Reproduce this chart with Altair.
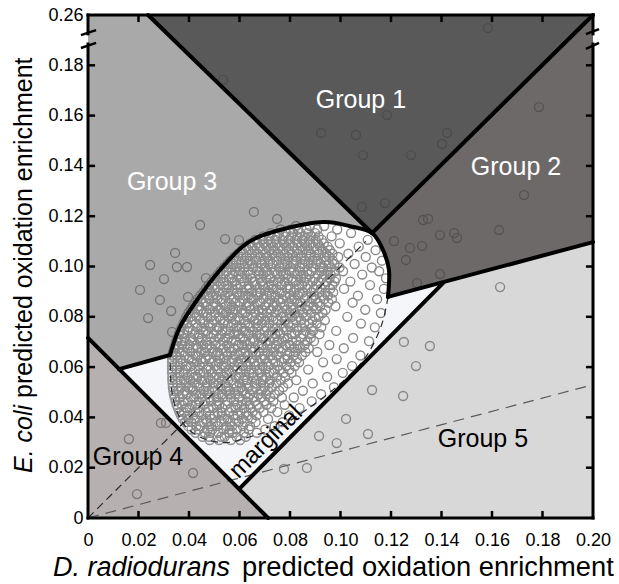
import altair as alt
import pandas as pd

FONT = "Liberation Sans"

# ---------------- axes ----------------
AXIS_VALUES = [0, 0.02, 0.04, 0.06, 0.08, 0.10, 0.12, 0.14, 0.16, 0.18, 0.20]
INNER_TICKS = [0.02, 0.04, 0.06, 0.08, 0.10, 0.12, 0.14, 0.16, 0.18]

# ---------------- scatter points (thousandths of enrichment) ----------------
OUT_X = [53.5, 92.3, 106.1, 108.9, 118.4, 127.9, 140.2, 142.2, 158.4, 108.5, 117.6,
         178.6, 172.7, 132.7, 134.7, 139.4, 145.0, 146.1, 121.2, 127.5, 132.3, 125.9, 139.4, 130.3, 162.8,
         163.2, 102.2, 91.5, 98.5, 110.9, 77.6, 86.7, 125.1, 135.4, 129.9, 124.8, 112.5,
         16.2, 41.6, 19.4, 28.9, 30.9,
         65.7, 74.9, 54.3, 59.8, 66.1, 34.5, 35.2, 39.2, 30.1, 46.7, 39.6, 32.9, 23.8, 33.3,
         24.6, 20.6, 44.4, 28.5]
OUT_Y = [174.2, 153.1, 152.3, 144.3, 160.2, 144.3, 148.7, 153.1, 194.8, 123.7, 125.2,
         163.4, 128.4, 118.5, 118.9, 112.5, 113.3, 111.3, 110.1, 107.4, 108.2, 102.6, 97.0, 93.4, 114.5,
         91.8, 39.4, 32.6, 29.8, 33.4, 19.5, 19.9, 70.0, 68.4, 60.4, 48.5, 50.9,
         31.4, 17.9, 9.5, 37.8, 37.8,
         121.7, 118.9, 110.9, 110.5, 110.5, 105.4, 99.8, 99.8, 95.0, 95.4, 87.9, 82.3, 79.5, 74.0,
         100.6, 90.7, 116.5, 86.7]

CLUSTER_ROWS = [
    (31.0, [48.2, 51.9, 56.6, 60.3]),
    (32.3, [45.4, 47.9, 52.7, 54.1, 58.8, 62.5]),
    (33.9, [42.6, 46.3, 48.4, 51.7, 55.9, 57.3, 61.8, 66.9]),
    (35.2, [41.0, 43.8, 47.5, 49.2, 53.6, 56.1, 59.0, 63.7, 70.2]),
    (36.5, [39.7, 42.9, 44.6, 48.8, 51.3, 54.9, 57.0, 61.4, 64.2, 73.9]),
    (38.1, [38.4, 40.9, 45.2, 47.1, 50.6, 52.8, 56.3, 59.7, 62.1, 66.4, 77.1]),
    (39.4, [37.5, 39.8, 42.4, 46.7, 49.0, 53.9, 55.4, 58.2, 61.0, 64.9, 71.3]),
    (40.8, [36.8, 39.3, 41.7, 44.9, 48.3, 50.2, 53.0, 57.6, 59.3, 63.1, 66.8, 79.6]),
    (42.1, [36.2, 38.0, 42.6, 44.1, 46.8, 51.4, 52.9, 55.8, 60.4, 62.7, 65.2, 69.5, 75.0]),
    (43.7, [35.6, 38.9, 40.3, 43.5, 47.7, 49.6, 53.1, 56.7, 58.4, 61.9, 64.3, 68.0, 72.6, 83.8]),
    (45.0, [35.1, 37.2, 41.1, 42.8, 45.9, 50.8, 52.0, 54.6, 59.1, 60.8, 64.0, 66.9, 70.7, 77.9]),
    (46.4, [34.7, 37.9, 39.6, 43.9, 46.4, 48.7, 51.5, 55.3, 57.8, 61.2, 62.9, 66.1, 69.8, 73.4, 88.6]),
    (47.9, [34.3, 36.4, 40.7, 42.0, 45.1, 48.0, 50.9, 53.4, 56.5, 59.9, 63.5, 65.7, 68.4, 72.2, 76.8, 81.5]),
    (49.2, [34.0, 37.6, 39.2, 42.9, 44.4, 47.3, 51.8, 53.1, 55.9, 58.3, 62.4, 64.1, 67.6, 70.5, 74.0, 92.3]),
    (50.6, [33.8, 35.9, 38.5, 41.6, 45.8, 47.9, 50.3, 54.7, 56.2, 59.6, 61.3, 65.0, 68.8, 71.3, 75.7, 85.1]),
    (52.0, [33.6, 36.9, 39.7, 41.2, 44.0, 46.8, 49.5, 52.4, 55.0, 58.9, 60.7, 63.6, 66.3, 70.0, 72.8, 77.3, 97.4]),
    (53.5, [33.5, 35.4, 38.8, 42.3, 43.7, 47.2, 49.9, 51.6, 54.4, 57.7, 60.0, 62.8, 65.9, 68.3, 71.8, 74.6, 79.2, 89.0]),
    (54.8, [33.4, 36.7, 38.1, 40.6, 44.8, 46.1, 48.6, 52.9, 55.5, 57.1, 61.6, 63.0, 66.8, 69.4, 72.1, 76.3, 82.5]),
    (56.1, [33.4, 35.6, 39.4, 41.9, 43.3, 47.6, 50.1, 51.9, 54.0, 58.5, 59.8, 62.2, 65.4, 68.9, 70.6, 74.7, 78.1, 94.7]),
    (57.7, [33.3, 36.2, 37.9, 40.9, 44.5, 45.8, 49.2, 52.6, 54.9, 56.7, 60.3, 63.9, 65.6, 68.1, 71.9, 73.5, 77.4, 80.6, 100.9]),
    (59.0, [33.3, 35.1, 38.6, 42.4, 43.9, 46.9, 48.5, 51.2, 55.6, 57.4, 59.2, 62.5, 64.7, 67.9, 70.3, 73.9, 76.0, 79.8, 87.2]),
    (60.4, [33.3, 36.5, 39.1, 40.7, 44.2, 47.7, 50.5, 53.0, 54.3, 58.0, 61.1, 63.4, 66.2, 69.1, 71.5, 75.3, 78.5, 81.9, 104.6]),
    (61.9, [33.3, 35.5, 37.6, 41.8, 43.1, 45.5, 49.0, 51.7, 54.6, 56.9, 59.5, 62.7, 65.8, 67.4, 70.9, 74.2, 76.7, 80.3, 83.6, 93.1]),
    (63.2, [33.3, 36.8, 39.9, 41.3, 44.8, 46.6, 48.1, 52.3, 53.8, 57.5, 60.6, 61.9, 64.9, 68.5, 70.1, 73.0, 77.8, 79.1, 82.8, 98.5]),
    (64.6, [33.3, 35.2, 38.3, 42.5, 43.6, 47.4, 50.7, 52.0, 55.2, 58.2, 59.9, 63.3, 66.6, 69.7, 72.4, 74.8, 78.9, 81.4, 84.7, 107.9]),
    (66.0, [33.7, 36.3, 37.8, 40.4, 44.7, 46.3, 49.4, 51.3, 54.8, 56.6, 60.5, 62.4, 65.2, 67.7, 71.2, 73.6, 76.4, 80.0, 82.2, 86.1, 90.8]),
    (67.5, [34.1, 35.9, 39.5, 41.6, 43.4, 47.0, 48.9, 53.5, 55.9, 57.8, 61.7, 64.6, 66.1, 69.3, 72.9, 75.6, 77.2, 81.7, 84.0, 87.4, 101.3]),
    (68.8, [34.6, 37.3, 40.2, 42.9, 45.6, 48.2, 50.6, 52.4, 55.1, 59.4, 60.9, 63.1, 67.3, 68.7, 71.0, 74.5, 78.3, 79.9, 83.1, 85.8, 95.6]),
    (70.3, [35.0, 36.9, 38.7, 41.2, 44.3, 46.9, 50.0, 53.7, 56.8, 58.6, 62.0, 64.3, 66.0, 70.4, 72.2, 75.0, 76.9, 80.8, 82.5, 86.9, 89.5, 111.3]),
    (71.6, [35.5, 38.2, 40.8, 43.7, 45.1, 48.8, 51.6, 54.3, 55.6, 60.2, 61.5, 65.5, 68.4, 69.6, 73.8, 77.7, 79.0, 84.3, 88.2, 105.0]),
    (73.1, [36.0, 37.7, 42.1, 44.0, 47.5, 49.7, 52.8, 56.0, 57.9, 59.7, 63.7, 66.9, 68.0, 71.6, 74.1, 76.2, 80.5, 81.9, 85.3, 87.9, 91.7]),
    (74.4, [36.5, 39.4, 41.5, 45.7, 46.8, 50.9, 53.2, 54.8, 58.8, 61.4, 62.6, 65.4, 69.9, 72.6, 75.4, 78.6, 83.0, 86.2, 89.1, 98.3]),
    (75.8, [37.1, 40.1, 43.2, 44.9, 48.4, 51.1, 52.0, 56.5, 59.0, 60.8, 64.1, 67.0, 70.7, 73.1, 74.9, 77.5, 80.1, 82.7, 84.8, 88.6, 92.4, 113.6]),
    (77.3, [37.8, 39.2, 42.7, 46.1, 47.8, 49.3, 53.6, 55.4, 57.6, 62.2, 63.8, 66.5, 68.8, 71.8, 76.5, 79.3, 81.3, 85.7, 87.6, 90.6, 108.1]),
    (78.6, [38.4, 41.3, 44.4, 45.6, 49.9, 52.5, 54.1, 58.3, 60.0, 61.8, 65.9, 67.4, 70.2, 73.4, 75.1, 77.9, 82.4, 84.4, 88.9, 93.8]),
    (80.0, [39.0, 40.6, 43.0, 47.3, 48.6, 51.9, 55.7, 56.9, 59.5, 63.2, 65.0, 68.6, 71.1, 72.9, 76.7, 78.4, 80.8, 83.5, 86.3, 89.9, 91.4, 102.7]),
    (81.5, [39.8, 42.2, 45.8, 46.9, 50.4, 53.3, 54.6, 57.3, 61.1, 62.4, 66.3, 69.1, 70.9, 74.4, 77.0, 79.7, 82.0, 85.1, 88.4, 92.9, 116.0]),
    (82.8, [40.7, 43.6, 44.7, 48.2, 51.7, 52.6, 56.2, 58.5, 60.9, 64.4, 67.6, 68.9, 72.5, 75.2, 78.8, 81.2, 83.9, 86.8, 90.4, 94.1, 109.8]),
    (84.2, [41.5, 44.1, 47.0, 49.5, 50.8, 54.5, 57.0, 59.8, 62.7, 63.9, 66.0, 70.1, 73.3, 74.7, 77.8, 80.4, 84.6, 87.1, 89.3, 92.0, 98.0]),
    (85.6, [42.4, 45.5, 46.6, 50.3, 53.0, 55.8, 58.4, 60.1, 63.4, 67.2, 68.2, 71.4, 73.9, 76.3, 79.5, 82.9, 84.1, 87.9, 91.0, 95.2, 104.8]),
    (87.0, [43.4, 44.9, 48.0, 51.2, 52.9, 56.8, 57.7, 61.6, 64.5, 65.6, 69.5, 72.0, 75.5, 77.1, 80.7, 81.8, 85.9, 88.6, 90.1, 93.5, 96.6, 114.5]),
    (88.4, [44.4, 47.2, 49.4, 50.9, 54.2, 56.0, 59.9, 62.3, 63.5, 67.0, 70.8, 72.7, 74.3, 78.1, 79.9, 83.3, 86.5, 89.7, 92.6, 95.0, 106.9]),
    (89.7, [45.6, 48.5, 51.8, 53.3, 55.5, 58.9, 61.0, 64.8, 66.7, 68.3, 71.9, 75.9, 76.8, 81.5, 83.9, 85.2, 88.3, 91.6, 94.0, 97.1]),
    (91.1, [46.7, 48.1, 50.6, 54.7, 57.1, 59.3, 62.9, 64.0, 67.9, 70.3, 73.1, 74.6, 78.7, 80.2, 82.6, 86.8, 89.4, 92.2, 95.9, 101.4, 117.2]),
    (92.6, [47.8, 50.0, 52.6, 55.4, 58.6, 60.5, 63.6, 66.4, 69.2, 71.7, 72.8, 76.6, 79.4, 83.5, 84.8, 87.0, 90.6, 93.9, 96.8, 111.7]),
    (94.0, [49.0, 51.5, 54.0, 57.0, 58.0, 61.9, 65.1, 66.0, 68.8, 73.5, 75.2, 77.9, 81.1, 82.3, 85.7, 88.9, 91.3, 94.6, 97.7, 103.9]),
    (95.3, [50.1, 52.8, 55.8, 56.9, 60.7, 63.0, 64.6, 68.1, 70.6, 72.3, 76.0, 79.2, 80.6, 84.4, 86.4, 89.9, 92.8, 95.7, 98.2, 118.0]),
    (96.8, [51.4, 53.7, 57.4, 59.6, 62.1, 64.3, 67.6, 69.4, 71.9, 74.9, 77.4, 78.5, 82.8, 85.3, 87.7, 91.0, 93.5, 96.1, 108.6]),
    (98.1, [52.5, 55.0, 58.1, 60.2, 63.5, 66.8, 68.0, 70.9, 73.8, 76.3, 79.9, 81.6, 84.0, 86.9, 88.5, 92.4, 94.9, 97.9, 101.0, 115.3]),
    (99.6, [53.9, 56.6, 59.0, 61.8, 65.4, 67.2, 70.0, 72.5, 75.7, 77.7, 80.3, 83.8, 85.6, 89.2, 91.9, 93.2, 96.3, 99.6, 112.4]),
    (101.0, [55.2, 57.7, 60.6, 63.1, 64.9, 68.7, 71.4, 73.1, 76.9, 79.0, 81.4, 84.9, 87.3, 90.4, 92.1, 95.4, 97.6, 105.6]),
    (102.3, [56.4, 58.8, 62.0, 64.4, 66.7, 69.9, 72.2, 74.8, 78.2, 80.9, 82.5, 86.1, 88.9, 91.1, 94.2, 96.9, 116.4]),
    (103.8, [57.9, 60.7, 62.9, 66.1, 68.4, 71.0, 74.0, 76.4, 79.3, 82.2, 84.6, 87.6, 89.8, 93.7, 95.5, 99.1, 110.0]),
    (105.1, [59.3, 61.5, 64.9, 67.3, 70.2, 72.9, 75.3, 77.9, 80.8, 83.3, 86.5, 88.2, 91.5, 94.4, 96.8, 103.1]),
    (106.5, [60.9, 63.6, 66.0, 69.2, 71.7, 73.8, 77.2, 79.6, 82.7, 85.0, 87.3, 90.7, 92.9, 95.8, 113.9]),
    (107.9, [62.6, 65.1, 67.9, 70.6, 73.3, 75.9, 78.6, 81.2, 84.3, 86.8, 89.3, 91.9, 94.9, 107.2]),
    (109.2, [64.3, 67.0, 69.6, 72.4, 74.7, 77.6, 80.1, 82.9, 85.8, 88.1, 91.0, 93.4, 99.7]),
    (110.6, [66.5, 69.1, 71.5, 74.3, 77.0, 79.4, 82.0, 84.8, 87.5, 90.2, 92.6, 110.8]),
    (112.0, [69.4, 72.0, 74.9, 77.5, 80.5, 83.0, 85.9, 88.4, 91.3, 96.5]),
    (113.3, [72.4, 75.6, 78.4, 81.3, 84.2, 87.1, 90.0, 104.2]),
    (114.7, [76.3, 80.2, 83.1, 86.6, 90.8, 98.7]),
    (116.1, [82.4, 87.9, 93.5]),
]

# ---------------- region geometry (enrichment units) ----------------
ELLIPSE_TOP = [(0.0325, 0.0648), (0.0364, 0.0759), (0.0432, 0.0867), (0.0523, 0.0986),
               (0.0630, 0.1093), (0.0760, 0.1145), (0.0931, 0.1177), (0.1038, 0.1160),
               (0.1125, 0.1133), (0.1168, 0.1066), (0.1192, 0.0986), (0.1188, 0.0879)]
ELLIPSE_BOTTOM = [(0.1188, 0.0879), (0.1160, 0.0760), (0.1093, 0.0630), (0.0986, 0.0523),
                  (0.0867, 0.0432), (0.0759, 0.0364), (0.0648, 0.0325), (0.0550, 0.0300),
                  (0.0460, 0.0315), (0.0390, 0.0360), (0.0350, 0.0430), (0.0330, 0.0520),
                  (0.0325, 0.0648)]

G1 = [(0.0238, 0.2), (0.2, 0.2), (0.1125, 0.1133)]
G2 = [(0.2, 0.2), (0.1125, 0.1133), (0.1168, 0.1066), (0.1192, 0.0986), (0.1188, 0.0879), (0.2, 0.1097)]
G3 = [(0.0, 0.2), (0.0238, 0.2)] + ELLIPSE_TOP[8::-1] + [(0.0123, 0.0592), (0.0, 0.0716)]
G4 = [(0.0, 0.0), (0.0, 0.0716), (0.0713, 0.0)]
G5 = [(0.0713, 0.0), (0.2, 0.0), (0.2, 0.1097), (0.1406, 0.0934), (0.0602, 0.0119)]
MARG = [(0.0123, 0.0592), (0.0602, 0.0119), (0.1406, 0.0934)] + ELLIPSE_BOTTOM

THICK_SEGMENTS = [
    [(0.0238, 0.2), (0.1125, 0.1133)],
    [(0.1125, 0.1133), (0.2, 0.2)],
    [(0.1188, 0.0879), (0.2, 0.1097)],
    [(0.0602, 0.0119), (0.1406, 0.0934)],
    [(0.0, 0.0716), (0.0713, 0.0)],
    [(0.0123, 0.0592), (0.0325, 0.0648)],
    ELLIPSE_TOP,
]

DIAG_LINE = [(0.0, 0.0), (0.110, 0.110)]
SHALLOW_LINE = [(0.0, 0.0), (0.2, 0.053)]

LABEL_TEXT = ["Group 1", "Group 2", "Group 3", "Group 4", "Group 5"]
LABEL_X = [0.1081, 0.1695, 0.0333, 0.0198, 0.1564]
LABEL_Y = [0.1662, 0.1396, 0.1336, 0.0243, 0.0314]
LABEL_COLOR = ["white", "white", "white", "black", "black"]

# ---------------- encodings ----------------
XS = alt.Scale(domain=[0, 0.2], nice=False, zero=False)
YS = alt.Scale(domain=[0, 0.2], nice=False, zero=False)
X_AXIS = alt.Axis(values=AXIS_VALUES, labelExpr="datum.value == 0 ? '0' : format(datum.value, '.2f')",
                  domain=False, ticks=False, grid=False, title=None, labelFont=FONT, labelFontSize=18,
                  labelColor="black", labelPadding=13, labelFlush=False, labelOverlap=False)
Y_AXIS = alt.Axis(values=AXIS_VALUES,
                  labelExpr="datum.value > 0.199 ? '0.26' : (datum.value == 0 ? '0' : format(datum.value, '.2f'))",
                  domain=False, ticks=False, grid=False, title=None, labelFont=FONT, labelFontSize=18,
                  labelColor="black", labelPadding=5, labelFlush=False, labelOverlap=False)


def X(f="x"):
    return alt.X(f, type="quantitative", scale=XS, axis=X_AXIS)


def Y(f="y"):
    return alt.Y(f, type="quantitative", scale=YS, axis=Y_AXIS)


def polygon(pts, color, opacity):
    df = pd.DataFrame({"x": [p[0] for p in pts], "y": [p[1] for p in pts], "o": list(range(len(pts)))})
    return alt.Chart(df).mark_line(fill=color, fillOpacity=opacity, strokeWidth=0, strokeOpacity=0).encode(
        x=X(), y=Y(), order="o:Q")


def path(segments, **kw):
    rows = []
    for i, seg in enumerate(segments):
        for j, p in enumerate(seg):
            rows.append({"x": p[0], "y": p[1], "s": i, "o": j})
    return alt.Chart(pd.DataFrame(rows)).mark_line(**kw).encode(x=X(), y=Y(), detail="s:N", order="o:Q")


# points
px, py = [], []
for x, y in zip(OUT_X, OUT_Y):
    px.append(x / 1000)
    py.append(y / 1000)
for yv, xs in CLUSTER_ROWS:
    for xv in xs:
        px.append(xv / 1000)
        py.append(yv / 1000)
pts_df = pd.DataFrame({"x": px, "y": py})
points = alt.Chart(pts_df).mark_point(shape="circle", filled=False, size=80, strokeWidth=1.4,
                                      color="#8a8a8a", opacity=1).encode(x=X(), y=Y())

regions = [
    polygon(G3, "#646262", 0.55),
    polygon(G1, "#424242", 0.88),
    polygon(G2, "#484444", 0.80),
    polygon(G4, "#6d6161", 0.50),
    polygon(G5, "#7d7d7d", 0.30),
    polygon(MARG, "#b6c3de", 0.15),
]

dashed_inner = path([DIAG_LINE], color="#2a2a2a", strokeWidth=1.2, strokeDash=[8, 5])
dashed_shallow = path([SHALLOW_LINE], color="#5a5a5a", strokeWidth=1.2, strokeDash=[11, 7])
dashed_ellipse = path([ELLIPSE_BOTTOM], color="#2a2a2a", strokeWidth=1.2, strokeDash=[7, 5],
                      interpolate="cardinal")
thick = path(THICK_SEGMENTS, color="black", strokeWidth=4, interpolate="cardinal", strokeCap="round",
             strokeJoin="round")

# frame
frame_rows = [
    {"x": 0.0, "x2": 0.2, "y": 0.0, "y2": 0.0},
    {"x": 0.0, "x2": 0.2, "y": 0.2, "y2": 0.2},
    {"x": 0.0, "x2": 0.0, "y": 0.0, "y2": 0.1885},
    {"x": 0.0, "x2": 0.0, "y": 0.1925, "y2": 0.2},
    {"x": 0.2, "x2": 0.2, "y": 0.0, "y2": 0.1885},
    {"x": 0.2, "x2": 0.2, "y": 0.1925, "y2": 0.2},
]
frame = alt.Chart(pd.DataFrame(frame_rows)).mark_rule(color="black", strokeWidth=3, strokeCap="square").encode(
    x=X(), x2="x2", y=Y(), y2="y2")

break_rows = [
    {"x": -0.0028, "x2": 0.0032, "y": 0.1920, "y2": 0.1940},
    {"x": -0.0028, "x2": 0.0032, "y": 0.1869, "y2": 0.1889},
    {"x": 0.1972, "x2": 0.2024, "y": 0.1924, "y2": 0.1944},
    {"x": 0.1972, "x2": 0.2024, "y": 0.1865, "y2": 0.1889},
]
breaks = alt.Chart(pd.DataFrame(break_rows)).mark_rule(color="black", strokeWidth=2.5).encode(
    x=X(), x2="x2", y=Y(), y2="y2")

tick_rows = []
for v in INNER_TICKS:
    tick_rows.append({"x": v, "x2": v, "y": 0.0, "y2": 0.0028})
    tick_rows.append({"x": v, "x2": v, "y": 0.2 - 0.0028, "y2": 0.2})
    tick_rows.append({"x": 0.0, "x2": 0.0028, "y": v, "y2": v})
    tick_rows.append({"x": 0.2 - 0.0028, "x2": 0.2, "y": v, "y2": v})
ticks = alt.Chart(pd.DataFrame(tick_rows)).mark_rule(color="black", strokeWidth=2.5).encode(
    x=X(), x2="x2", y=Y(), y2="y2")

labels = alt.Chart(pd.DataFrame({"x": LABEL_X, "y": LABEL_Y, "t": LABEL_TEXT, "c": LABEL_COLOR})).mark_text(
    font=FONT, fontSize=25, align="center", baseline="middle").encode(
    x=X(), y=Y(), text="t:N", color=alt.Color("c:N", scale=None))

marginal = alt.Chart(pd.DataFrame({"x": [0.0705], "y": [0.0302], "t": ["marginal"]})).mark_text(
    font=FONT, fontSize=24, align="center", baseline="middle", angle=315, color="black").encode(
    x=X(), y=Y(), text="t:N")

# axis titles (mixed italic / regular)
xt1 = alt.Chart(pd.DataFrame({"t": ["D. radiodurans"]})).mark_text(
    font=FONT, fontSize=27, fontStyle="italic", align="left", baseline="alphabetic", color="black").encode(
    x=alt.value(-35), y=alt.value(561), text="t:N")
xt2 = alt.Chart(pd.DataFrame({"t": ["predicted oxidation enrichment"]})).mark_text(
    font=FONT, fontSize=27.3, align="left", baseline="alphabetic", color="black").encode(
    x=alt.value(154), y=alt.value(561), text="t:N")
yt1 = alt.Chart(pd.DataFrame({"t": ["E. coli"]})).mark_text(
    font=FONT, fontSize=25, fontStyle="italic", align="left", baseline="alphabetic", angle=270,
    color="black").encode(x=alt.value(-56), y=alt.value(458), text="t:N")
yt2 = alt.Chart(pd.DataFrame({"t": ["predicted oxidation enrichment"]})).mark_text(
    font=FONT, fontSize=25, align="left", baseline="alphabetic", angle=270, color="black").encode(
    x=alt.value(-56), y=alt.value(383), text="t:N")

chart = alt.layer(
    points, *regions, dashed_shallow, dashed_inner, dashed_ellipse, thick, frame, breaks, ticks,
    labels, marginal, xt1, xt2, yt1, yt2
).properties(
    width=505, height=503,
    autosize=alt.AutoSizeParams(type="none"),
    padding={"left": 88, "top": 15, "right": 26, "bottom": 66},
    background="white",
).configure_view(strokeWidth=0)

chart.save("out.html", embed_options={"renderer": "svg", "actions": False})
